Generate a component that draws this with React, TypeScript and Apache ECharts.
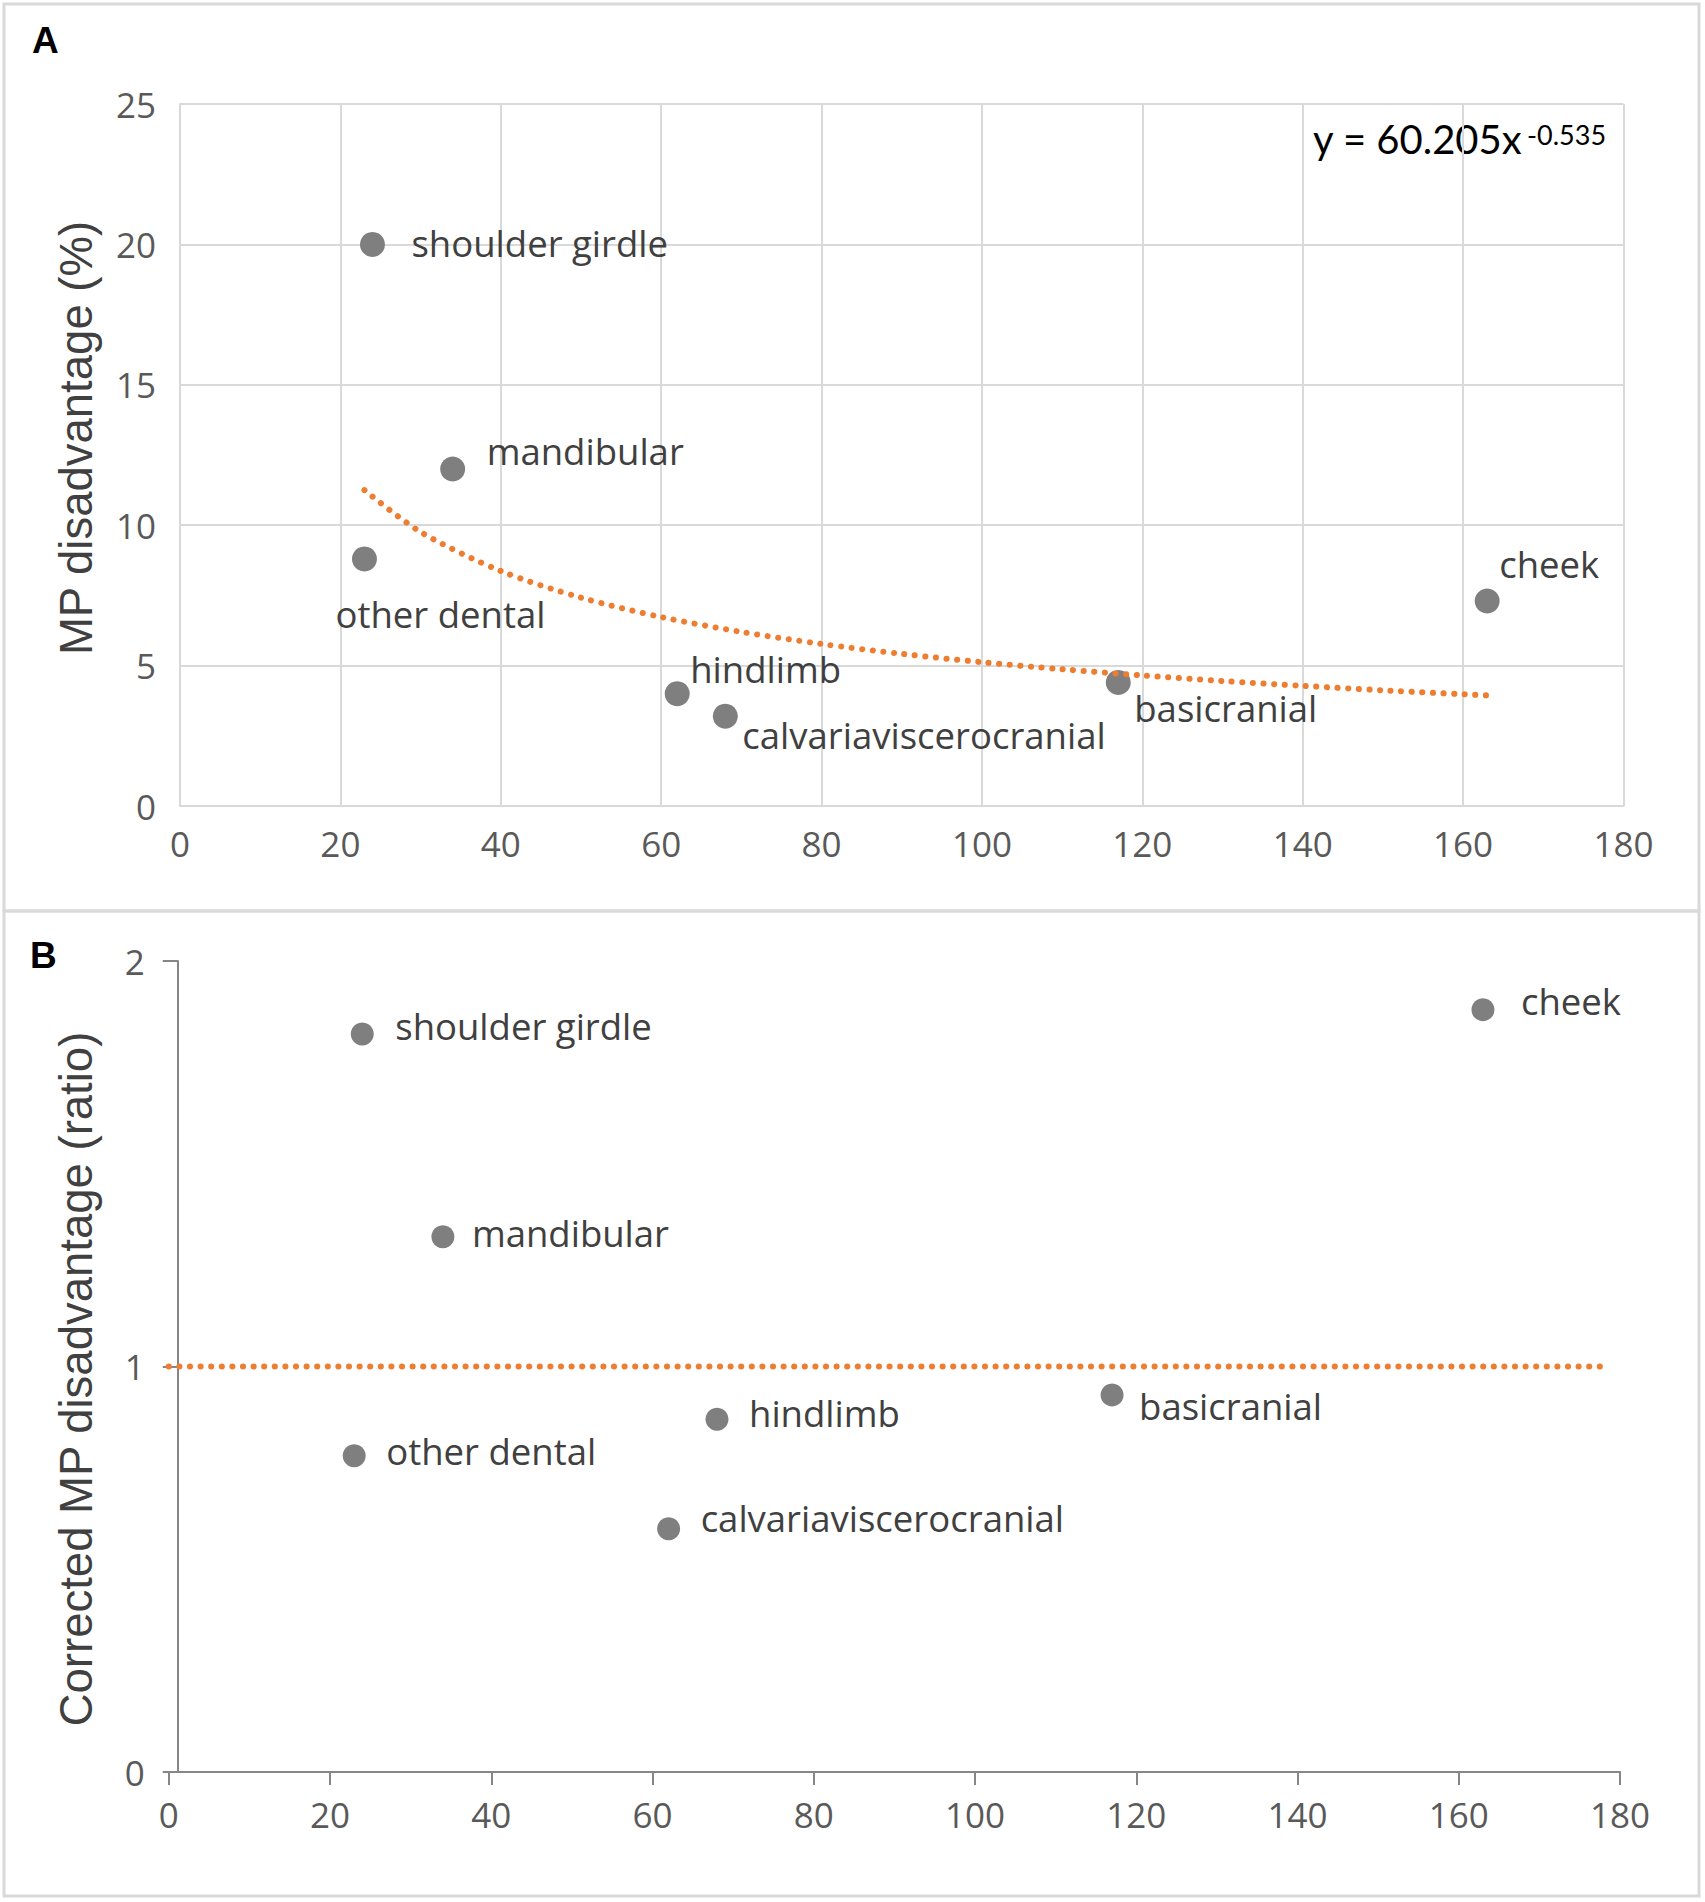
import React, { useEffect, useRef } from "react";
import * as echarts from "echarts";

// ---- Panel A data ----
const categoriesA = [
  "shoulder girdle",
  "mandibular",
  "other dental",
  "hindlimb",
  "calvariaviscerocranial",
  "basicranial",
  "cheek",
];
const xValuesA = [24, 34, 23, 62, 68, 117, 163];
const yValuesA = [20.0, 12.0, 8.8, 4.0, 3.2, 4.4, 7.3];

// power trendline
const trendX = [23, 30, 40, 50, 60, 70, 80, 90, 100, 110, 120, 130, 140, 150, 163];
const trendY = [11.25, 9.76, 8.37, 7.42, 6.73, 6.2, 5.77, 5.42, 5.12, 4.87, 4.65, 4.45, 4.28, 4.12, 3.94];

// ---- Panel B data ----
const categoriesB = [
  "shoulder girdle",
  "mandibular",
  "other dental",
  "hindlimb",
  "calvariaviscerocranial",
  "basicranial",
  "cheek",
];
const xValuesB = [24, 34, 23, 68, 62, 117, 163];
const yValuesB = [1.82, 1.32, 0.78, 0.87, 0.6, 0.93, 1.88];
const refLineX = [0, 178];
const refLineY = [1, 1];

// ---- Tick labels ----
const xTicks = [0, 20, 40, 60, 80, 100, 120, 140, 160, 180];
const yTicksA = [0, 5, 10, 15, 20, 25];
const yTicksB = [0, 1, 2];

// label placement (pixels relative to marker centre)
const labelOffsetA: Record<string, [number, number]> = {
  "shoulder girdle": [39, -1],
  mandibular: [34, -18],
  "other dental": [-29, 55],
  hindlimb: [13, -25],
  calvariaviscerocranial: [17, 19],
  basicranial: [16, 26],
  cheek: [12, -37],
};
const labelOffsetB: Record<string, [number, number]> = {
  "shoulder girdle": [33, -8],
  mandibular: [29, -4],
  "other dental": [32, -5],
  hindlimb: [32, -6],
  calvariaviscerocranial: [32, -11],
  basicranial: [27, 11],
  cheek: [38, -9],
};

const LABEL_FONT = "Open Sans";
const EQ_FONT = "Lato";
const TITLE_FONT = "Liberation Sans";
const ORANGE = "#ED7D31";
const GRID_GRAY = "#d9d9d9";
const AXIS_GRAY = "#868686";

export default function App() {
  const ref = useRef<HTMLDivElement>(null);

  useEffect(() => {
    document.body.style.margin = "0";
    const chart = echarts.init(ref.current!, null, { renderer: "svg" });

    const scatterA = categoriesA.map((name, i) => ({
      name,
      value: [xValuesA[i], yValuesA[i]],
      label: { offset: labelOffsetA[name] },
    }));
    const scatterB = categoriesB.map((name, i) => ({
      name,
      value: [xValuesB[i], yValuesB[i]],
      label: { offset: labelOffsetB[name] },
    }));
    const trendData = trendX.map((x, i) => [x, trendY[i]]);
    const refData = refLineX.map((x, i) => [x, refLineY[i]]);

    const tickLabel = {
      color: "#595959",
      fontSize: 35,
      fontFamily: LABEL_FONT,
    };
    const pointLabel = {
      show: true,
      formatter: "{b}",
      position: "inside",
      align: "left",
      verticalAlign: "middle",
      fontFamily: LABEL_FONT,
      fontSize: 36.5,
      color: "#404040",
    };
    const dotted = {
      color: ORANGE,
      width: 6,
      type: [0.1, 10.5],
      cap: "round",
    };

    const option: any = {
      animation: false,
      backgroundColor: "#ffffff",
      grid: [
        { left: 180, top: 104, width: 1443.5, height: 702 },
        { left: 168.75, top: 961, width: 1451.25, height: 811 },
      ],
      xAxis: [
        {
          gridIndex: 0,
          type: "value",
          min: xTicks[0],
          max: xTicks[xTicks.length - 1],
          interval: 20,
          axisLine: { show: true, onZero: false, lineStyle: { color: GRID_GRAY, width: 2 } },
          axisTick: { show: false },
          splitLine: { show: true, lineStyle: { color: GRID_GRAY, width: 2 } },
          axisLabel: { ...tickLabel, margin: 20 },
        },
        {
          gridIndex: 1,
          type: "value",
          min: xTicks[0],
          max: xTicks[xTicks.length - 1],
          interval: 20,
          axisLine: { show: true, onZero: false, lineStyle: { color: AXIS_GRAY, width: 2 } },
          axisTick: { show: true, length: 13, lineStyle: { color: AXIS_GRAY, width: 2 } },
          splitLine: { show: false },
          axisLabel: { ...tickLabel, margin: 25 },
        },
      ],
      yAxis: [
        {
          gridIndex: 0,
          type: "value",
          min: yTicksA[0],
          max: yTicksA[yTicksA.length - 1],
          interval: 5,
          axisLine: { show: true, onZero: false, lineStyle: { color: GRID_GRAY, width: 2 } },
          axisTick: { show: false },
          splitLine: { show: true, lineStyle: { color: GRID_GRAY, width: 2 } },
          axisLabel: { ...tickLabel, margin: 24 },
        },
        {
          gridIndex: 1,
          type: "value",
          min: yTicksB[0],
          max: yTicksB[yTicksB.length - 1],
          interval: 1,
          offset: -9,
          axisLine: { show: true, onZero: false, lineStyle: { color: AXIS_GRAY, width: 2 } },
          axisTick: { show: true, length: 15, lineStyle: { color: AXIS_GRAY, width: 2 } },
          splitLine: { show: false },
          axisLabel: { ...tickLabel, margin: 33 },
        },
      ],
      series: [
        {
          type: "line",
          xAxisIndex: 0,
          yAxisIndex: 0,
          data: trendData,
          smooth: 0.3,
          symbol: "none",
          showSymbol: false,
          silent: true,
          lineStyle: dotted,
        },
        {
          type: "scatter",
          xAxisIndex: 0,
          yAxisIndex: 0,
          data: scatterA,
          symbolSize: 25,
          itemStyle: { color: "#7f7f7f", opacity: 1 },
          label: pointLabel,
          silent: true,
        },
        {
          type: "line",
          xAxisIndex: 1,
          yAxisIndex: 1,
          data: refData,
          symbol: "none",
          showSymbol: false,
          silent: true,
          lineStyle: dotted,
        },
        {
          type: "scatter",
          xAxisIndex: 1,
          yAxisIndex: 1,
          data: scatterB,
          symbolSize: 23,
          itemStyle: { color: "#7f7f7f", opacity: 1 },
          label: pointLabel,
          silent: true,
        },
      ],
      graphic: [
        {
          type: "rect",
          shape: { x: 4, y: 4, width: 1695, height: 907 },
          style: { fill: "none", stroke: GRID_GRAY, lineWidth: 3 },
          silent: true,
        },
        {
          type: "rect",
          shape: { x: 4, y: 911, width: 1695, height: 985 },
          style: { fill: "none", stroke: GRID_GRAY, lineWidth: 3 },
          silent: true,
        },
        {
          type: "text",
          x: 32,
          y: 40.5,
          style: {
            text: "A",
            font: `bold 37px "${TITLE_FONT}"`,
            fill: "#000",
            align: "left",
            verticalAlign: "middle",
          },
        },
        {
          type: "text",
          x: 30,
          y: 955.5,
          style: {
            text: "B",
            font: `bold 37px "${TITLE_FONT}"`,
            fill: "#000",
            align: "left",
            verticalAlign: "middle",
          },
        },
        {
          type: "text",
          x: 76,
          y: 438,
          rotation: Math.PI / 2,
          style: {
            text: "MP disadvantage (%)",
            font: `45.5px "${TITLE_FONT}"`,
            fill: "#404040",
            align: "center",
            verticalAlign: "middle",
          },
        },
        {
          type: "text",
          x: 76,
          y: 1379,
          rotation: Math.PI / 2,
          style: {
            text: "Corrected MP disadvantage (ratio)",
            font: `45.5px "${TITLE_FONT}"`,
            fill: "#404040",
            align: "center",
            verticalAlign: "middle",
          },
        },
        {
          type: "text",
          x: 1313,
          y: 139,
          style: {
            text: "y = 60.205x",
            font: `40px "${EQ_FONT}"`,
            fill: "#000",
            align: "left",
            verticalAlign: "middle",
          },
        },
        {
          type: "text",
          x: 1527,
          y: 134,
          style: {
            text: "-0.535",
            font: `27px "${EQ_FONT}"`,
            fill: "#000",
            align: "left",
            verticalAlign: "middle",
          },
        },
      ],
    };

    chart.setOption(option);
    return () => chart.dispose();
  }, []);

  return <div ref={ref} style={{ width: 1705, height: 1902 }} />;
}
